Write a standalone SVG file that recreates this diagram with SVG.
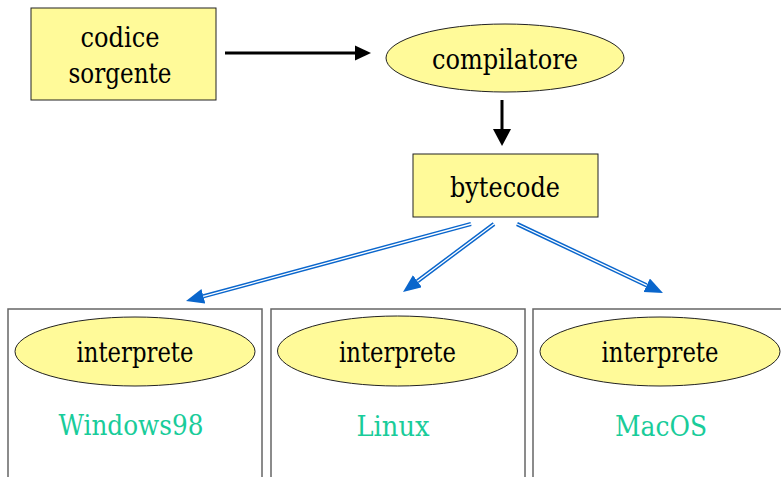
<svg xmlns="http://www.w3.org/2000/svg" width="781" height="477" viewBox="0 0 781 477">
<style>
.node{fill:#FFFA99;stroke:#222;stroke-width:1}
.frame{fill:#fff;stroke:#666;stroke-width:1.5}
.blue{stroke:#0A66CC;stroke-width:4.2;fill:none}
.inner{stroke:#fff;stroke-width:1.3;fill:none}
.os{fill:#19CC9A}
</style>
<defs>
<marker id="bh" markerUnits="userSpaceOnUse" markerWidth="19" markerHeight="16" refX="0" refY="7.5" orient="auto" viewBox="0 0 19 16">
<path d="M0,0 L18,7.5 L0,15 z" fill="#0A66CC"/>
</marker>
</defs>
<rect width="781" height="477" fill="#fff"/>
<g id="frame-windows"><rect class="frame" x="8" y="309" width="254" height="190"/></g>
<g id="frame-linux"><rect class="frame" x="271" y="309" width="254" height="190"/></g>
<g id="frame-macos"><rect class="frame" x="533" y="309" width="254" height="190"/></g>
<g font-family="'DejaVu Serif', serif" font-size="27" text-anchor="middle">
<g id="codice">
<rect class="node" x="31" y="8" width="185" height="92"/>
<text x="120" y="47" textLength="79" lengthAdjust="spacingAndGlyphs">codice</text>
<text x="120" y="83" textLength="103" lengthAdjust="spacingAndGlyphs">sorgente</text>
</g>
<g id="compilatore">
<ellipse class="node" cx="505" cy="58" rx="119" ry="34"/>
<text x="505" y="69" textLength="146" lengthAdjust="spacingAndGlyphs">compilatore</text>
</g>
<g id="bytecode">
<rect class="node" x="413" y="154" width="185" height="63"/>
<text x="505" y="197" textLength="110" lengthAdjust="spacingAndGlyphs">bytecode</text>
</g>
<g id="interprete-windows">
<ellipse class="node" cx="135" cy="351.5" rx="120" ry="34.5"/>
<text x="135" y="362" textLength="117" lengthAdjust="spacingAndGlyphs">interprete</text>
<text class="os" x="131" y="435" textLength="145" lengthAdjust="spacingAndGlyphs">Windows98</text>
</g>
<g id="interprete-linux">
<ellipse class="node" cx="397.5" cy="351" rx="120" ry="35"/>
<text x="397.5" y="362" textLength="117" lengthAdjust="spacingAndGlyphs">interprete</text>
<text class="os" x="393" y="436" textLength="73" lengthAdjust="spacingAndGlyphs">Linux</text>
</g>
<g id="interprete-macos">
<ellipse class="node" cx="660" cy="351.5" rx="120" ry="34.5"/>
<text x="660" y="362" textLength="117" lengthAdjust="spacingAndGlyphs">interprete</text>
<text class="os" x="661" y="436" textLength="92" lengthAdjust="spacingAndGlyphs">MacOS</text>
</g>
</g>
<g id="connectors">
<line x1="225" y1="53" x2="356" y2="53" stroke="#000" stroke-width="3"/>
<polygon points="355,45.5 371,53 355,60.5" fill="#000"/>
<line x1="502" y1="100" x2="502" y2="130" stroke="#000" stroke-width="3"/>
<polygon points="493,129 511,129 502,146" fill="#000"/>
<line class="blue" x1="471" y1="224" x2="203.4" y2="296.3" marker-end="url(#bh)"/>
<line class="inner" x1="471" y1="224" x2="203.4" y2="296.3"/>
<line class="blue" x1="494" y1="224" x2="417.4" y2="281.2" marker-end="url(#bh)"/>
<line class="inner" x1="494" y1="224" x2="417.4" y2="281.2"/>
<line class="blue" x1="517" y1="224" x2="646.7" y2="285.3" marker-end="url(#bh)"/>
<line class="inner" x1="517" y1="224" x2="646.7" y2="285.3"/>
</g>
</svg>
